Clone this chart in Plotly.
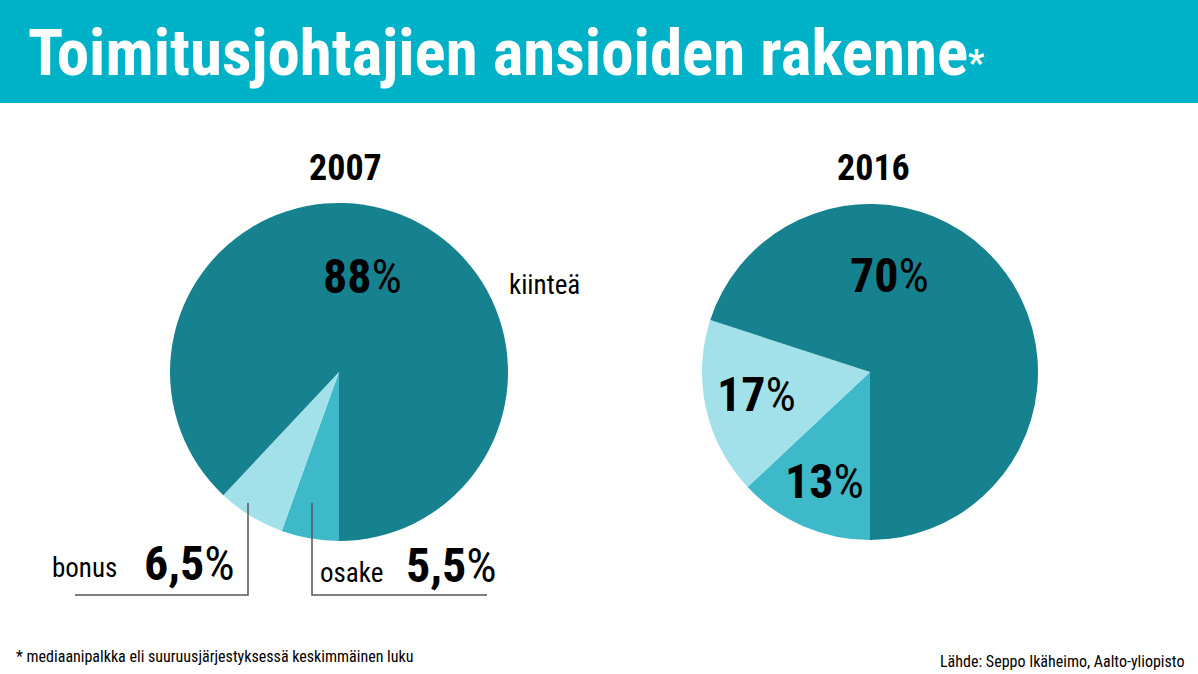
import plotly.graph_objects as go

labels = ["osake", "bonus", "kiinteä"]
values_2007 = [5.5, 6.5, 88]
values_2016 = [13, 17, 70]
colors = ["#3db9c9", "#a3e1ea", "#17828f"]
FONT = "Liberation Sans Narrow, Roboto Condensed, Arial Narrow, sans-serif"

W, H = 1198, 674
fig = go.Figure()

def dom(cx, cy, r):
    return dict(x=[(cx - r) / W, (cx + r) / W], y=[(H - cy - r) / H, (H - cy + r) / H])

for vals, (cx, cy, r) in [(values_2007, (339, 372, 169)), (values_2016, (870, 372, 168))]:
    fig.add_trace(go.Pie(labels=labels, values=vals, sort=False, direction="clockwise",
                         rotation=180, marker=dict(colors=colors, line=dict(width=0)),
                         textinfo="none", hoverinfo="skip", showlegend=False, domain=dom(cx, cy, r)))

fig.update_layout(width=W, height=H, margin=dict(l=0, r=0, t=0, b=0),
                  paper_bgcolor="white", plot_bgcolor="rgba(0,0,0,0)",
                  xaxis=dict(range=[0, W], visible=False, fixedrange=True),
                  yaxis=dict(range=[H, 0], visible=False, fixedrange=True),
                  font=dict(family=FONT, color="black"))

shapes = [
    dict(type="rect", x0=0, x1=W, y0=0, y1=103, fillcolor="#00b2c8", line=dict(width=0), layer="below"),
    dict(type="path", path="M248,503 L248,595 L75,595", line=dict(color="#555", width=1.5)),
    dict(type="path", path="M312,503 L312,595 L487,595", line=dict(color="#555", width=1.5)),
]
for s in shapes:
    s.update(xref="x", yref="y")
fig.update_layout(shapes=shapes)

def ann(x, y, text, size, xanchor="center", color="black"):
    fig.add_annotation(x=x, y=y, xref="x", yref="y", text=text, showarrow=False,
                       font=dict(size=size, color=color, family=FONT), xanchor=xanchor, yanchor="middle")

ann(26, 53, "<b>Toimitusjohtajien ansioiden rakenne</b><b><span style='font-size:36px'>*</span></b>", 65, "left", "white")
ann(345, 168, "<b>2007</b>", 36)
ann(873, 168, "<b>2016</b>", 36)
ann(362, 276, "<b>88</b>%", 48)
ann(507, 285, "kiinteä", 27, "left")
ann(50, 568, "bonus", 27, "left")
ann(142, 563, "<b>6,5</b>%", 48, "left")
ann(318, 573, "osake", 27, "left")
ann(404, 565, "<b>5,5</b>%", 48, "left")
ann(889, 275, "<b>70</b>%", 48)
ann(756, 394, "<b>17</b>%", 48)
ann(824, 481, "<b>13</b>%", 48)
ann(14, 656, "* mediaanipalkka eli suuruusjärjestyksessä keskimmäinen luku", 16, "left")
ann(1186, 661, "Lähde: Seppo Ikäheimo, Aalto-yliopisto", 16, "right")

fig.write_html("out.html", config=dict(displayModeBar=False, staticPlot=True))
with open("out.html", encoding="utf-8") as f:
    html = f.read()
html = html.replace("<body>", "<body style='margin:0;overflow:hidden'>", 1)
with open("out.html", "w", encoding="utf-8") as f:
    f.write(html)
